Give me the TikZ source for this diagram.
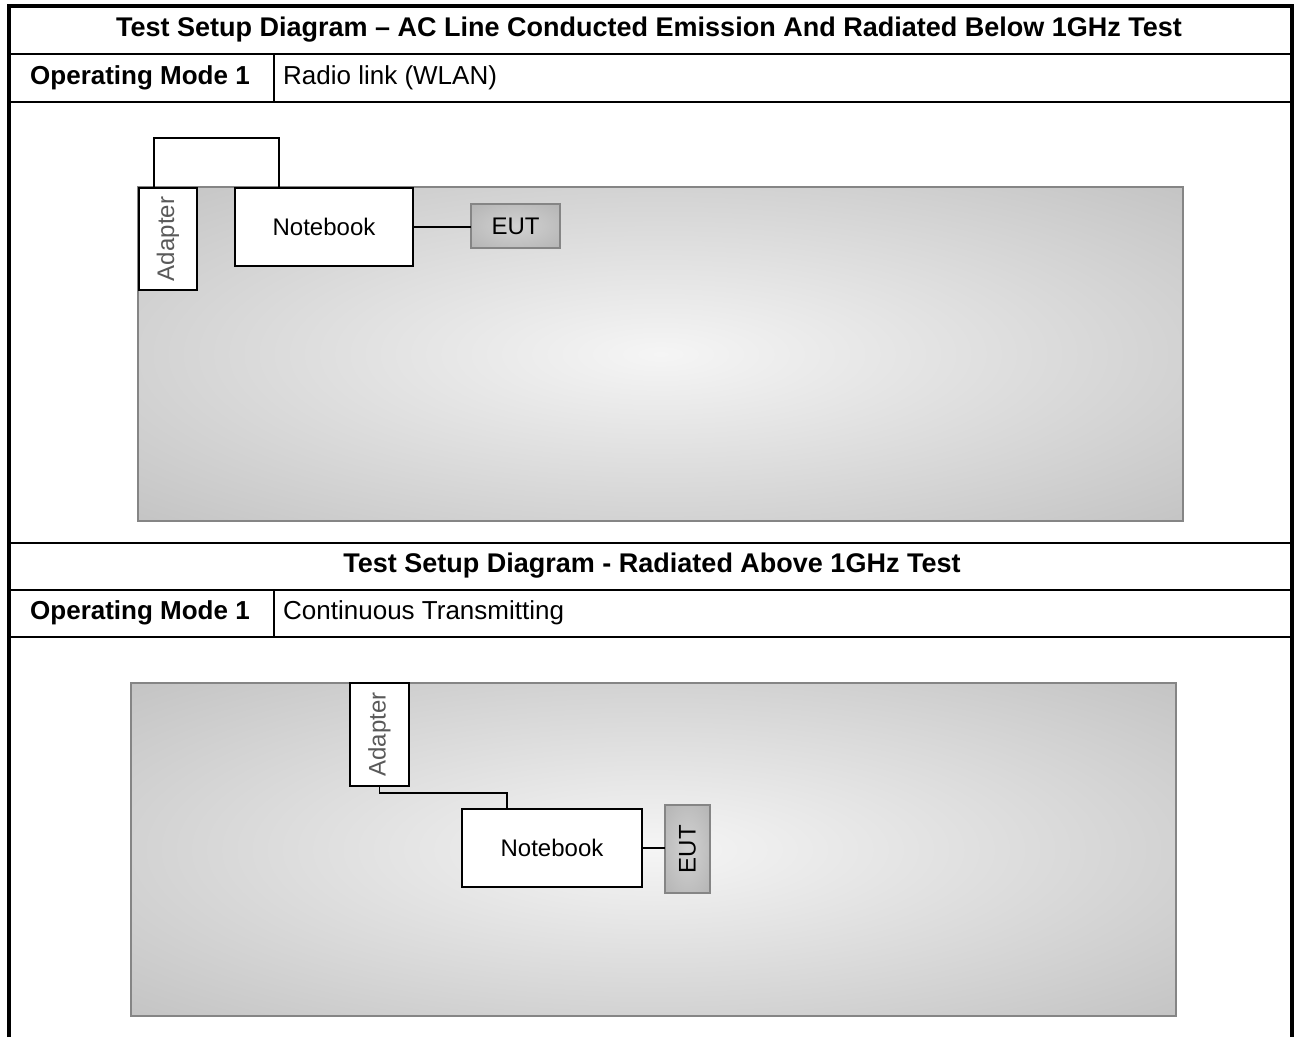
\documentclass[tikz,border=0pt]{standalone}
\usepackage{fontspec}
\setmainfont{Liberation Sans}
\usetikzlibrary{calc}
\definecolor{pnlin}{HTML}{F5F5F5}
\definecolor{pnlmid}{HTML}{B0B0B0}
\definecolor{pnlout}{HTML}{9C9C9C}
\definecolor{eutin}{HTML}{D2D2D2}
\definecolor{eutout}{HTML}{A8A8A8}
\definecolor{pnlborder}{HTML}{858585}
\pgfdeclareradialshading{panelshade}{\pgfpoint{0bp}{0bp}}{color(0bp)=(pnlin); color(50bp)=(pnlmid); color(72bp)=(pnlout); color(100bp)=(pnlout)}
\pgfdeclareradialshading{eutshade}{\pgfpoint{0bp}{0bp}}{color(0bp)=(eutin); color(50bp)=(eutout); color(100bp)=(eutout)}
\tikzset{
  tableline/.style={line width=2pt, draw=black},
  frameline/.style={line width=3.5pt, draw=black},
  titletext/.style={font=\fontsize{27}{31}\selectfont\bfseries, inner sep=0pt},
  celltext/.style={font=\fontsize{26}{30}\selectfont, inner sep=0pt, anchor=west},
  celltextbold/.style={font=\fontsize{26}{30}\selectfont\bfseries, inner sep=0pt, anchor=west},
  panel/.style={shading=panelshade, draw=pnlborder, line width=1.8pt},
  whitebox/.style={draw=black, fill=white, line width=1.5pt, inner sep=0pt, outer sep=0pt, font=\fontsize{24}{28}\selectfont},
  eutbox/.style={draw=pnlborder, shading=eutshade, line width=1.8pt, inner sep=0pt, outer sep=0pt, font=\fontsize{24}{28}\selectfont},
  wire/.style={draw=black, line width=1.5pt},
  adaptertext/.style={text=black!65}
}
\begin{document}
\begin{tikzpicture}[x=1pt, y=-1pt]
\useasboundingbox (0,0) rectangle (1295,1037);
\fill[white] (0,0) rectangle (1295,1037);
% table frame
\draw[frameline] (9,1037) -- (9,6) -- (1292,6) -- (1292,1037);
\foreach \yy in {54,102,543,590,637} {
  \draw[tableline] (9,\yy) -- (1292,\yy);
}
\draw[tableline] (274,54) -- (274,102);
\draw[tableline] (274,590) -- (274,637);
% texts
\node[titletext] (title1) at (649,30) {Test Setup Diagram – AC Line Conducted Emission And Radiated Below 1GHz Test};
\node[celltextbold] (mode1) at (30,78) {Operating Mode 1};
\node[celltext] (desc1) at (283,78) {Radio link (WLAN)};
\node[titletext] (title2) at (652,566) {Test Setup Diagram - Radiated Above 1GHz Test};
\node[celltextbold] (mode2) at (30,613) {Operating Mode 1};
\node[celltext] (desc2) at (283,613) {Continuous Transmitting};
% panel A
\path[panel] (138,187) rectangle (1183,521);
\node[whitebox, minimum width=58pt, minimum height=102pt] (adapterA) at (168,239) {};
\node[adaptertext, rotate=90, font=\fontsize{24}{28}\selectfont, inner sep=0pt] (adapterAtxt) at (adapterA.center) {Adapter};
\node[whitebox, minimum width=178pt, minimum height=78pt] (notebookA) at (324,227) {Notebook};
\node[eutbox, minimum width=89pt, minimum height=44pt] (eutA) at (515.5,226) {EUT};
\draw[wire] ([xshift=15pt]adapterA.north west) -- ++(0,-50) -| ([xshift=44pt]notebookA.north west);
\draw[wire] (notebookA.east) -- (notebookA.east -| eutA.west);
% panel B
\path[panel] (131,683) rectangle (1176,1016);
\node[whitebox, minimum width=59pt, minimum height=103pt] (adapterB) at (379.5,734.5) {};
\node[adaptertext, rotate=90, font=\fontsize{24}{28}\selectfont, inner sep=0pt] (adapterBtxt) at (adapterB.center) {Adapter};
\node[whitebox, minimum width=180pt, minimum height=78pt] (notebookB) at (552,848) {Notebook};
\node[eutbox, minimum width=45pt, minimum height=88pt] (eutB) at (687.5,849) {};
\node[rotate=90, font=\fontsize{24}{28}\selectfont, inner sep=0pt] (eutBtxt) at (eutB.center) {EUT};
\draw[wire] (adapterB.south) -- ++(0,7) -| ([xshift=45pt]notebookB.north west);
\draw[wire] (notebookB.east) -- (notebookB.east -| eutB.west);
\end{tikzpicture}
\end{document}
